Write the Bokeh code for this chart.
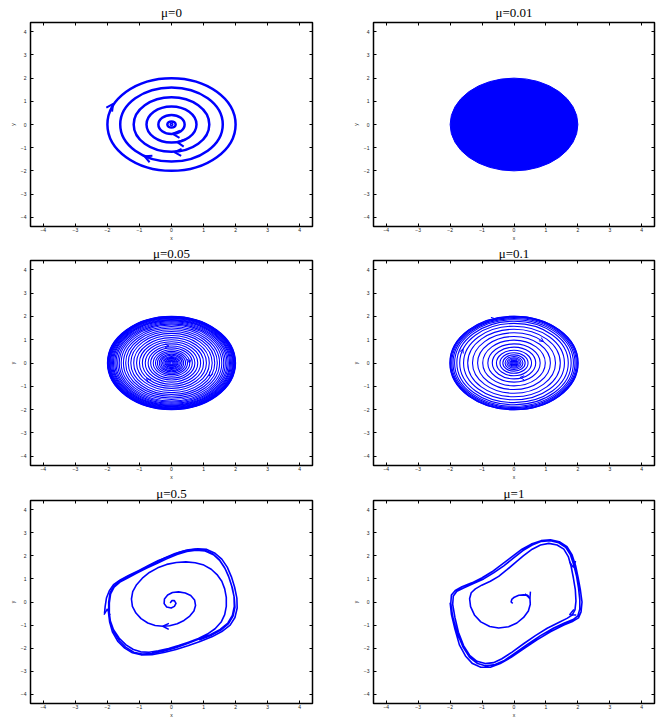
from bokeh.plotting import figure
from bokeh.layouts import gridplot
from bokeh.models import Arrow, OpenHead, LinearAxis, FixedTicker, Range1d, ColumnDataSource
from bokeh.embed import file_html
from bokeh.resources import INLINE

# ---------------- data ----------------
TICKS = [-4, -3, -2, -1, 0, 1, 2, 3, 4]
TICK_LABELS = ["\u22124", "\u22123", "\u22122", "\u22121", "0", "1", "2", "3", "4"]
AX_LIM = 4.4

TITLES = ["\u03bc=0", "\u03bc=0.01", "\u03bc=0.05", "\u03bc=0.1", "\u03bc=0.5", "\u03bc=1"]

# mu = 0 : closed orbits (radii)
MU0_RADII = [2.0, 1.6, 1.18, 0.78, 0.41, 0.13]
MU0_CORE_RADII = [0.04]
MU0_ARROW_X = [-1.82, -0.84, 0.09, 0.18, 0.04]
MU0_ARROW_Y = [0.89, -1.37, -1.19, -0.76, -0.40]
MU0_ARROW_DX = [0.5, -1.0, -1.0, -1.0, -1.0]
MU0_ARROW_DY = [1.0, 0.6, 0.08, 0.2, 0.1]

# mu = 0.01 : densely filled region
MU001_RADIUS = [2.0]

# mu = 0.05 : tight spiral, windings approximated by radii
MU005_RADII = [0.05, 0.08, 0.11, 0.14, 0.17, 0.2, 0.24, 0.28, 0.33, 0.38, 0.44, 0.5,
               0.57, 0.65, 0.73, 0.82, 0.91, 1.0, 1.09, 1.18, 1.27, 1.35, 1.43, 1.5,
               1.57, 1.63, 1.68, 1.73, 1.77, 1.81, 1.84, 1.87, 1.9, 1.92, 1.94, 1.96,
               1.97, 1.98, 1.99, 2.0]
MU005_ARROW_X = [-0.08, 0.56, -0.78, 1.18]
MU005_ARROW_Y = [0.73, 0.0, -0.67, -0.56]
MU005_ARROW_DX = [1.0, 0.0, -0.7, -0.45]
MU005_ARROW_DY = [0.0, -1.0, 0.8, -1.0]

# mu = 0.1
MU01_RADII = [0.04, 0.07, 0.1, 0.13, 0.17, 0.22, 0.28, 0.35, 0.44, 0.55, 0.68, 0.82,
              0.98, 1.14, 1.3, 1.45, 1.58, 1.7, 1.79, 1.86, 1.91, 1.95, 1.98, 2.0, 2.01]
MU01_ARROW_X = [-0.59, 0.92, -1.6, 0.19]
MU01_ARROW_Y = [1.9, 0.92, 0.6, -0.62]
MU01_ARROW_DX = [1.0, 0.8, 0.3, -1.0]
MU01_ARROW_DY = [0.2, -0.8, 1.0, 0.1]

# mu = 0.5 : trajectory from the centre
MU05_PTS = [
    (-0.04, -0.04), (0.01, 0.06), (0.09, 0.06), (0.14, -0.06), (0.09, -0.19),
    (-0.01, -0.26), (-0.15, -0.22), (-0.23, -0.07), (-0.22, 0.13), (-0.12, 0.30),
    (0.03, 0.41), (0.22, 0.44), (0.43, 0.39), (0.60, 0.28), (0.72, 0.09),
    (0.75, -0.15), (0.70, -0.39), (0.57, -0.61), (0.39, -0.80), (0.18, -0.94),
    (-0.06, -1.03), (-0.27, -1.05), (-0.51, -1.02), (-0.74, -0.91), (-0.95, -0.72),
    (-1.11, -0.48), (-1.22, -0.19), (-1.25, 0.13), (-1.21, 0.45), (-1.09, 0.75),
    (-0.91, 1.03), (-0.69, 1.28), (-0.43, 1.48), (-0.15, 1.63), (0.15, 1.71),
    (0.45, 1.74), (0.74, 1.70), (1.01, 1.60), (1.24, 1.42), (1.42, 1.19),
    (1.57, 0.90), (1.66, 0.57), (1.71, 0.20), (1.71, -0.19), (1.66, -0.55),
    (1.55, -0.87), (1.36, -1.16), (1.12, -1.39), (0.84, -1.58), (0.53, -1.74),
    (0.22, -1.89), (-0.09, -2.02), (-0.41, -2.12), (-0.70, -2.18), (-0.96, -2.16),
    (-1.19, -2.06), (-1.42, -1.86), (-1.63, -1.57), (-1.81, -1.20), (-1.91, -0.81),
    (-1.96, -0.41), (-1.96, 0.00), (-1.92, 0.39), (-1.81, 0.68), (-1.63, 0.90),
    (-1.39, 1.09), (-1.13, 1.26), (-0.82, 1.48), (-0.51, 1.70), (-0.20, 1.92),
    (0.11, 2.10), (0.43, 2.23), (0.74, 2.29), (1.03, 2.25), (1.29, 2.09),
    (1.49, 1.84), (1.65, 1.51), (1.78, 1.12), (1.88, 0.68), (1.95, 0.25),
    (1.96, -0.19), (1.90, -0.58), (1.76, -0.91), (1.52, -1.19), (1.21, -1.42),
    (0.84, -1.62), (0.48, -1.81), (0.11, -1.99), (-0.25, -2.13), (-0.61, -2.23),
    (-0.92, -2.26), (-1.18, -2.18), (-1.42, -1.97), (-1.63, -1.68), (-1.80, -1.31),
    (-1.90, -0.91), (-1.94, -0.48), (-1.94, -0.04), (-1.90, 0.35), (-1.79, 0.64),
    (-1.61, 0.86), (-1.37, 1.04), (-1.08, 1.25), (-0.77, 1.47), (-0.46, 1.67),
    (-0.15, 1.87), (0.17, 2.06), (0.48, 2.19), (0.77, 2.25), (1.05, 2.21),
    (1.31, 2.05), (1.51, 1.79), (1.67, 1.45), (1.80, 1.04), (1.90, 0.61),
    (1.96, 0.17), (1.98, -0.23), (1.92, -0.61), (1.78, -0.94), (1.54, -1.22),
    (1.23, -1.45), (0.86, -1.65),
]
# mu = 0.5 : trajectory from outside
MU05B_PTS = [
    (-2.09, -0.48), (-2.07, -0.19), (-2.03, 0.17), (-1.94, 0.49), (-1.81, 0.75),
    (-1.60, 0.96), (-1.34, 1.15), (-1.03, 1.36), (-0.72, 1.58), (-0.41, 1.80),
    (-0.09, 1.96), (0.22, 2.14), (0.53, 2.26), (0.82, 2.31), (1.10, 2.28),
    (1.36, 2.11), (1.57, 1.86), (1.74, 1.51), (1.87, 1.09), (1.97, 0.64),
    (2.04, 0.17), (2.05, -0.26), (1.98, -0.67), (1.83, -1.00), (1.57, -1.28),
    (1.26, -1.51), (0.89, -1.71), (0.51, -1.90), (0.14, -2.06), (-0.24, -2.19),
    (-0.61, -2.28), (-0.95, -2.29), (-1.22, -2.20), (-1.46, -2.00), (-1.68, -1.70),
    (-1.84, -1.31), (-1.93, -0.87), (-1.97, -0.41),
]
MU05_ARROW_X = [-0.27, -2.0]
MU05_ARROW_Y = [-1.05, -0.3]
MU05_ARROW_DX = [-1.0, 0.05]
MU05_ARROW_DY = [0.05, 1.0]

# mu = 1
MU1_PTS = [
    (-0.04, -0.06), (-0.09, 0.00), (-0.07, 0.11), (0.01, 0.21), (0.15, 0.29),
    (0.30, 0.31), (0.43, 0.29), (0.50, 0.14), (0.51, -0.10), (0.45, -0.39),
    (0.30, -0.67), (0.09, -0.91), (-0.17, -1.07), (-0.48, -1.13), (-0.76, -1.06),
    (-1.04, -0.86), (-1.24, -0.56), (-1.36, -0.20), (-1.39, 0.14), (-1.34, 0.40),
    (-1.21, 0.57), (-1.01, 0.73), (-0.74, 0.90), (-0.48, 1.11), (-0.22, 1.40),
    (0.04, 1.71), (0.30, 2.01), (0.57, 2.29), (0.83, 2.47), (1.09, 2.54),
    (1.35, 2.47), (1.56, 2.29), (1.70, 1.97), (1.79, 1.54), (1.86, 1.04),
    (1.92, 0.54), (1.94, 0.04), (1.91, -0.34), (1.82, -0.57), (1.66, -0.71),
    (1.40, -0.89), (1.04, -1.14), (0.67, -1.46), (0.30, -1.81), (-0.06, -2.17),
    (-0.38, -2.46), (-0.64, -2.63), (-0.90, -2.67), (-1.16, -2.57), (-1.39, -2.31),
    (-1.58, -1.89), (-1.74, -1.31), (-1.85, -0.67), (-1.92, -0.10), (-1.90, 0.26),
    (-1.79, 0.47), (-1.58, 0.61), (-1.27, 0.80), (-0.95, 1.00), (-0.64, 1.26),
    (-0.32, 1.57), (-0.01, 1.91), (0.28, 2.23), (0.57, 2.47), (0.86, 2.63),
    (1.14, 2.66), (1.40, 2.57), (1.62, 2.37), (1.77, 2.04), (1.87, 1.61),
    (1.96, 1.11), (2.02, 0.61), (2.06, 0.11), (2.06, -0.31), (2.00, -0.60),
    (1.85, -0.76), (1.58, -0.91), (1.23, -1.14), (0.83, -1.46), (0.43, -1.83),
    (0.04, -2.21), (-0.30, -2.53), (-0.59, -2.71), (-0.87, -2.77), (-1.14, -2.67),
    (-1.39, -2.40), (-1.60, -1.94), (-1.79, -1.31), (-1.92, -0.63), (-1.98, -0.06),
    (-1.96, 0.30), (-1.84, 0.50), (-1.63, 0.66), (-1.32, 0.83), (-1.01, 1.04),
    (-0.69, 1.31), (-0.38, 1.63), (-0.06, 1.97), (0.25, 2.29), (0.54, 2.51),
    (0.85, 2.66), (1.14, 2.70), (1.42, 2.61), (1.66, 2.40), (1.82, 2.04),
    (1.93, 1.57), (2.01, 1.04), (2.08, 0.51), (2.13, 0.00), (2.10, -0.43),
    (2.02, -0.69), (1.85, -0.83), (1.56, -1.00), (1.14, -1.29), (0.72, -1.64),
    (0.30, -2.03), (-0.09, -2.40), (-0.43, -2.67), (-0.74, -2.83), (-1.04, -2.83),
    (-1.30, -2.67), (-1.52, -2.34), (-1.71, -1.86), (-1.85, -1.17), (-1.96, -0.53),
    (-2.00, -0.03),
]
MU1_ARROW_X = [0.50, 1.86, 1.74]
MU1_ARROW_Y = [0.16, 1.50, -0.55]
MU1_ARROW_DX = [0.3, 0.1, -1.0]
MU1_ARROW_DY = [-1.0, -1.0, -0.6]

BLUE = "#0000ff"

# ---------------- helpers ----------------
def make_fig(title, w, h, bl, br, bt, bb, tstand):
    p = figure(width=w, height=h, x_range=Range1d(-AX_LIM, AX_LIM),
               y_range=Range1d(-AX_LIM, AX_LIM), output_backend="svg",
               toolbar_location=None, min_border_left=bl, min_border_right=br,
               min_border_top=bt, min_border_bottom=bb,
               x_axis_label="x", y_axis_label="y", title=title)
    p.title.align = "center"
    p.title.text_font = "Liberation Serif"
    p.title.text_font_style = "normal"
    p.title.text_font_size = "13px"
    p.title.text_line_height = 0.9
    p.title.text_color = "black"
    p.title.standoff = tstand
    p.title.offset = 0
    p.grid.visible = False
    p.outline_line_color = "black"
    p.outline_line_width = 1.5
    # top / right: tick marks only (drawn as minor ticks, so no labels)
    p.add_layout(LinearAxis(ticker=FixedTicker(ticks=[], minor_ticks=TICKS)), "above")
    p.add_layout(LinearAxis(ticker=FixedTicker(ticks=[], minor_ticks=TICKS)), "right")
    for ax in (p.above[0], p.right[0]):
        ax.minor_tick_in = 3
        ax.minor_tick_out = 0
        ax.minor_tick_line_color = "black"
        ax.major_tick_in = 0
        ax.major_tick_out = 0
        ax.axis_line_color = None
        ax.major_label_standoff = 0
    overrides = {t: l for t, l in zip(TICKS, TICK_LABELS)}
    for ax in (p.below[0], p.left[0]):
        ax.ticker = FixedTicker(ticks=TICKS)
        ax.major_label_overrides = overrides
        ax.major_tick_in = 3
        ax.major_tick_out = 0
        ax.minor_tick_in = 0
        ax.minor_tick_out = 0
        ax.axis_line_color = None
        ax.major_tick_line_color = "black"
        ax.major_label_text_font = "Liberation Sans"
        ax.major_label_text_font_size = "5px"
        ax.major_label_text_color = "#222222"
        ax.axis_label_text_font = "Liberation Sans"
        ax.axis_label_text_font_size = "5px"
        ax.axis_label_text_font_style = "normal"
        ax.axis_label_text_color = "#222222"
        ax.axis_label_standoff = 0
        ax.major_label_standoff = 1
    p.left[0].major_label_standoff = 4
    p.left[0].axis_label_standoff = 2
    return p


def add_arrows(p, xs, ys, dxs, dys, size, lw):
    x0, y0 = [], []
    for x, y, dx, dy in zip(xs, ys, dxs, dys):
        n = (dx * dx + dy * dy) ** 0.5
        x0.append(x - 0.02 * dx / n)
        y0.append(y - 0.02 * dy / n)
    src = ColumnDataSource(dict(x0=x0, y0=y0, x1=list(xs), y1=list(ys)))
    p.add_layout(Arrow(end=OpenHead(size=size, line_color=BLUE, line_width=lw),
                       x_start="x0", y_start="y0", x_end="x1", y_end="y1",
                       line_alpha=0, source=src))


def rings(p, radii, lw):
    d = [2 * r for r in radii]
    p.ellipse(x=[0] * len(radii), y=[0] * len(radii), width=d, height=d,
              fill_color=None, line_color=BLUE, line_width=lw)


# ---------------- panels ----------------
W1, W2 = 342, 326
H1, H2, H3 = 243, 239, 238

p1 = make_fig(TITLES[0], W1, H1, 30, 30, 21, 17, 5)
rings(p1, MU0_RADII, 2.5)
rings(p1, MU0_CORE_RADII, 1.5)
add_arrows(p1, MU0_ARROW_X, MU0_ARROW_Y, MU0_ARROW_DX, MU0_ARROW_DY, 7, 2)

p2 = make_fig(TITLES[1], W2, H1, 31, 14, 21, 17, 5)
d2 = [2 * r for r in MU001_RADIUS]
p2.ellipse(x=[0], y=[0], width=d2, height=d2, fill_color=BLUE, line_color=BLUE)

p3 = make_fig(TITLES[2], W1, H2, 30, 30, 15, 17, 0)
rings(p3, MU005_RADII, 1.1)
add_arrows(p3, MU005_ARROW_X, MU005_ARROW_Y, MU005_ARROW_DX, MU005_ARROW_DY, 4, 1)

p4 = make_fig(TITLES[3], W2, H2, 31, 14, 15, 17, 0)
rings(p4, MU01_RADII, 1.1)
add_arrows(p4, MU01_ARROW_X, MU01_ARROW_Y, MU01_ARROW_DX, MU01_ARROW_DY, 4, 1)

p5 = make_fig(TITLES[4], W1, H3, 30, 30, 18, 17, 0)
p5.line([q[0] for q in MU05_PTS], [q[1] for q in MU05_PTS], line_color=BLUE,
        line_width=1.6, line_join="round")
p5.line([q[0] for q in MU05B_PTS], [q[1] for q in MU05B_PTS], line_color=BLUE,
        line_width=1.6, line_join="round")
add_arrows(p5, MU05_ARROW_X, MU05_ARROW_Y, MU05_ARROW_DX, MU05_ARROW_DY, 6, 1.5)

p6 = make_fig(TITLES[5], W2, H3, 31, 14, 18, 17, 0)
p6.line([q[0] for q in MU1_PTS], [q[1] for q in MU1_PTS], line_color=BLUE,
        line_width=1.6, line_join="round")
add_arrows(p6, MU1_ARROW_X, MU1_ARROW_Y, MU1_ARROW_DX, MU1_ARROW_DY, 6, 1.5)

grid = gridplot([[p1, p2], [p3, p4], [p5, p6]], toolbar_location=None)

open("out.html", "w").write(file_html(grid, INLINE))
